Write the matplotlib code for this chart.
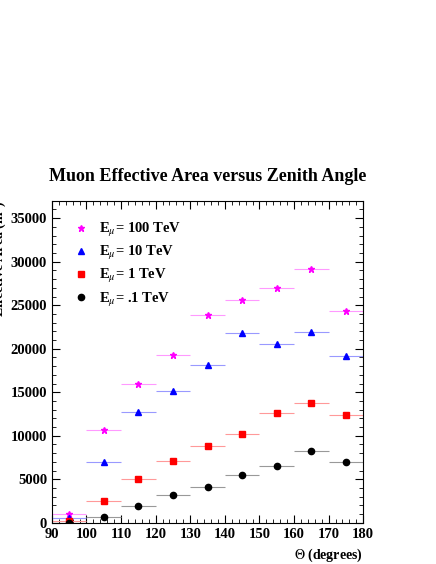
import matplotlib
matplotlib.use("Agg")
import matplotlib.pyplot as plt
from matplotlib.lines import Line2D
from matplotlib.ticker import AutoMinorLocator

plt.rcParams['font.family'] = ['Liberation Serif', 'DejaVu Serif']
plt.rcParams['mathtext.fontset'] = 'stix'

theta = [95, 105, 115, 125, 135, 145, 155, 165, 175]
a100 = [1000, 10700, 16000, 19300, 23900, 25600, 27000, 29200, 24300]
a10 = [600, 7000, 12700, 15100, 18100, 21800, 20600, 21900, 19200]
a1 = [250, 2500, 5050, 7100, 8850, 10200, 12600, 13750, 12350]
a01 = [0, 700, 1950, 3200, 4100, 5500, 6550, 8250, 6950]

series = [
    (a100, "*", "#ff00ff", "#ff99ff", r"E$_\mu$= 100 TeV", 5),
    (a10, "^", "#0000ff", "#9999ff", r"E$_\mu$= 10 TeV", 4.5),
    (a1, "s", "#ff0000", "#ff9999", r"E$_\mu$= 1 TeV", 5),
    (a01, "o", "black", "#999999", r"E$_\mu$= .1 TeV", 4.5),
]

fig = plt.figure(figsize=(4.36, 5.64), dpi=100)
ax = fig.add_axes([0.119, 0.073, 0.714, 0.571])
handles = []
for vals, m, c, ec, lab, ms in series:
    ax.errorbar(theta, vals, xerr=5, fmt=m, color=c, ecolor=ec, elinewidth=0.8,
                ms=ms, capsize=0, clip_on=True)
    handles.append(Line2D([], [], ls='none', marker=m, color=c, ms=ms, label=lab))

ax.set_xlim(90, 180)
ax.set_ylim(0, 37000)
ax.set_xticks(range(90, 181, 10))
ax.set_yticks(range(0, 35001, 5000))
ax.xaxis.set_minor_locator(AutoMinorLocator(5))
ax.yaxis.set_minor_locator(AutoMinorLocator(5))
ax.tick_params(which='both', direction='in', top=True, right=True, labelsize=10.5)
ax.tick_params(which='major', length=6)
ax.tick_params(which='minor', length=3)
for lbl in ax.get_xticklabels() + ax.get_yticklabels():
    lbl.set_fontweight('bold')
ax.set_xlabel(r"$\Theta$ (degrees)", fontsize=10, fontweight='bold', loc='right')
ax.set_ylabel(r"Effective Area (m$^2$)", fontsize=10, fontweight='bold', loc='top',
              labelpad=1)
ax.set_title("Muon Effective Area versus Zenith Angle", fontsize=13,
             fontweight='bold', pad=14)
leg = ax.legend(handles=handles, loc='upper left', frameon=False, fontsize=10.5,
                handlelength=1.2, handletextpad=0.6, borderaxespad=0.8,
                borderpad=0.6, labelspacing=0.35)
for t in leg.get_texts():
    t.set_fontweight('bold')

plt.savefig("out.png")
